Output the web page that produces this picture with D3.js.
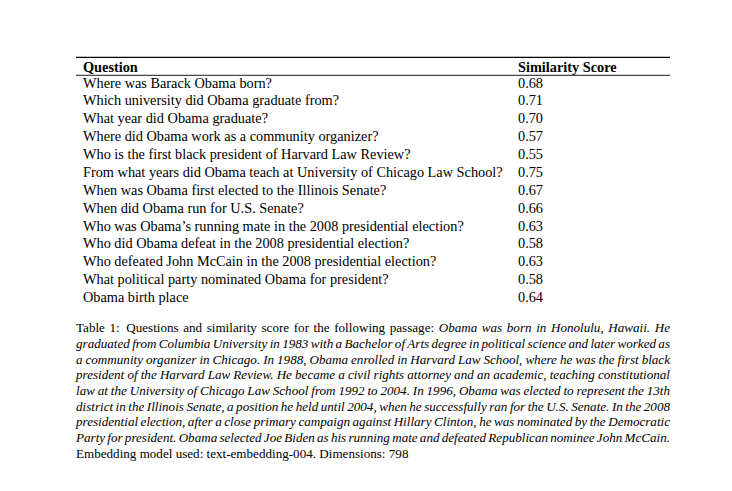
<!DOCTYPE html>
<html>
<head>
<meta charset="utf-8">
<script src="https://cdn.jsdelivr.net/npm/d3@7"></script>
<style>
  html, body { margin: 0; padding: 0; background: #fff; }
  svg { display: block; }
  text { font-family: "Liberation Serif", "Times New Roman", serif; fill: #000; }
</style>
</head>
<body>
<svg id="chart" width="732" height="491"></svg>
<script>
// ---- data ----
const headers = ["Question", "Similarity Score"];
const questions = [
  "Where was Barack Obama born?",
  "Which university did Obama graduate from?",
  "What year did Obama graduate?",
  "Where did Obama work as a community organizer?",
  "Who is the first black president of Harvard Law Review?",
  "From what years did Obama teach at University of Chicago Law School?",
  "When was Obama first elected to the Illinois Senate?",
  "When did Obama run for U.S. Senate?",
  "Who was Obama\u2019s running mate in the 2008 presidential election?",
  "Who did Obama defeat in the 2008 presidential election?",
  "Who defeated John McCain in the 2008 presidential election?",
  "What political party nominated Obama for president?",
  "Obama birth place"
];
const scores = [0.68, 0.71, 0.70, 0.57, 0.55, 0.75, 0.67, 0.66, 0.63, 0.58, 0.63, 0.58, 0.64];

// caption lines: runs of [text, italic]
const captionLines = [
  [["Table 1:\u00a0\u00a0Questions and similarity score for the following passage:", false], ["Obama was born in Honolulu, Hawaii. He", true]],
  [["graduated from Columbia University in 1983 with a Bachelor of Arts degree in political science and later worked as", true]],
  [["a community organizer in Chicago. In 1988, Obama enrolled in Harvard Law School, where he was the first black", true]],
  [["president of the Harvard Law Review. He became a civil rights attorney and an academic, teaching constitutional", true]],
  [["law at the University of Chicago Law School from 1992 to 2004. In 1996, Obama was elected to represent the 13th", true]],
  [["district in the Illinois Senate, a position he held until 2004, when he successfully ran for the U.S. Senate. In the 2008", true]],
  [["presidential election, after a close primary campaign against Hillary Clinton, he was nominated by the Democratic", true]],
  [["Party for president. Obama selected Joe Biden as his running mate and defeated Republican nominee John McCain.", true]],
  [["Embedding model used: text-embedding-004. Dimensions: 798", false]]
];

// ---- layout ----
const svg = d3.select("#chart");
svg.append("rect").attr("width", 732).attr("height", 491).attr("fill", "#fff");

const tableLeft = 76, tableRight = 670;
const colX = d3.scaleOrdinal().domain(headers).range([83, 518]);
const tableFont = 14.3, capFont = 13.1;

const rowY = d3.scaleLinear().domain([0, questions.length - 1]).range([87.5, 302]);
const headerY = 71.5;

// rules
svg.append("line").attr("x1", tableLeft).attr("x2", tableRight)
  .attr("y1", 57.3).attr("y2", 57.3).attr("stroke", "#000").attr("stroke-width", 1.2);
svg.append("line").attr("x1", tableLeft).attr("x2", tableRight)
  .attr("y1", 75.3).attr("y2", 75.3).attr("stroke", "#000").attr("stroke-width", 0.9);

// header
svg.selectAll("text.hdr").data(headers).join("text")
  .attr("class", "hdr")
  .attr("x", d => colX(d)).attr("y", headerY)
  .attr("font-size", tableFont).attr("font-weight", "bold")
  .text(d => d);

// rows
const rows = svg.selectAll("g.row").data(questions.map((q, i) => ({q, s: scores[i], i})))
  .join("g").attr("class", "row")
  .attr("transform", d => `translate(0,${rowY(d.i)})`);
rows.append("text").attr("x", colX(headers[0])).attr("font-size", tableFont).text(d => d.q);
rows.append("text").attr("x", colX(headers[1])).attr("font-size", tableFont).text(d => d.s.toFixed(2));

// caption (justified)
const capY = d3.scaleLinear().domain([0, captionLines.length - 1]).range([332.3, 457.5]);
const capLeft = 76, capRight = 670;
const measurer = svg.append("text").attr("font-size", capFont).attr("visibility", "hidden");
function measure(t, italic) {
  measurer.attr("font-style", italic ? "italic" : "normal").text(t);
  return measurer.node().getComputedTextLength();
}
captionLines.forEach((runs, li) => {
  const words = [];
  runs.forEach(([txt, it]) => {
    txt.split(" ").filter(w => w.length).forEach(w => words.push({w, it}));
  });
  words.forEach(d => d.width = measure(d.w, d.it));
  const total = d3.sum(words, d => d.width);
  const isLast = li === captionLines.length - 1;
  const natural = capFont * 0.25;
  const gaps = words.length - 1;
  const gap = isLast ? natural : (capRight - capLeft - total) / gaps;
  let x = capLeft;
  const g = svg.append("g").attr("transform", `translate(0,${capY(li)})`);
  words.forEach(d => {
    g.append("text").attr("x", x).attr("font-size", capFont)
      .attr("font-style", d.it ? "italic" : "normal")
      .text(d.w);
    x += d.width + gap;
  });
});
measurer.remove();
</script>
</body>
</html>
